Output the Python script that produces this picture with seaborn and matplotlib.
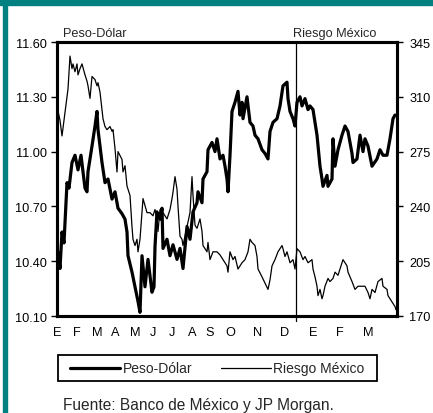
import pandas as pd
import numpy as np
import matplotlib.pyplot as plt
import seaborn as sns

# posicion en el eje de fechas y valores (filas de 10)
peso_dia = [1, 3, 5, 7, 10, 12, 15, 18, 21, 24,
            28, 30, 31, 35, 38, 40, 41, 43, 45, 48,
            51, 55, 58, 61, 65, 68, 70, 71, 75, 78,
            81, 83, 85, 88, 91, 95, 97, 98, 100, 103,
            105, 106, 110, 113, 116, 120, 123, 126, 130, 133,
            136, 140, 141, 145, 146, 150, 151, 155, 158, 160,
            163, 166, 168, 170, 171, 173, 175, 178, 181, 183,
            185, 186, 190, 193, 196, 198, 201, 205, 208, 211,
            213, 216, 220, 223, 226, 230, 231, 233, 236, 238,
            240, 243, 245, 248, 251, 253, 256, 258, 260, 263,
            265, 266, 270, 271, 275, 276, 278, 281, 285, 288,
            291, 295, 296, 300, 303, 306, 308, 311, 315, 320,
            323, 326, 330, 333, 336, 338]
peso_valor = [10.45, 10.36, 10.56, 10.50, 10.83, 10.80, 10.94, 10.98, 10.90, 10.98,
              10.80, 10.78, 10.89, 11.03, 11.14, 11.22, 11.12, 11.03, 10.94, 10.83,
              10.85, 10.74, 10.78, 10.69, 10.66, 10.63, 10.56, 10.43, 10.34, 10.26,
              10.18, 10.12, 10.43, 10.26, 10.41, 10.23, 10.26, 10.48, 10.67, 10.63,
              10.69, 10.47, 10.52, 10.43, 10.49, 10.41, 10.47, 10.36, 10.59, 10.52,
              10.67, 10.72, 10.78, 10.72, 10.85, 10.89, 11.01, 11.05, 11.00, 11.07,
              10.96, 10.98, 10.92, 10.85, 10.78, 10.98, 11.22, 11.27, 11.33, 11.20,
              11.27, 11.18, 11.30, 11.16, 11.14, 11.09, 11.07, 11.01, 10.99, 10.96,
              11.11, 11.16, 11.18, 11.25, 11.36, 11.38, 11.29, 11.22, 11.18, 11.14,
              11.27, 11.30, 11.25, 11.29, 11.23, 11.25, 11.23, 11.16, 11.09, 10.92,
              10.85, 10.81, 10.87, 10.81, 10.85, 11.07, 10.92, 11.01, 11.09, 11.14,
              11.11, 10.99, 10.94, 10.96, 11.09, 11.00, 11.07, 11.03, 10.92, 10.96,
              11.01, 10.98, 10.98, 11.07, 11.18, 11.20]

riesgo_dia = [0, 3, 5, 8, 11, 13, 15, 16, 18, 20,
              21, 23, 25, 28, 30, 31, 33, 35, 38, 40,
              41, 43, 45, 46, 48, 50, 53, 55, 56, 58,
              60, 61, 65, 66, 68, 70, 73, 75, 76, 78,
              80, 81, 83, 85, 86, 90, 93, 96, 98, 100,
              101, 103, 106, 110, 113, 115, 116, 118, 120, 121,
              123, 125, 126, 130, 133, 135, 136, 138, 140, 143,
              145, 146, 150, 151, 153, 156, 160, 163, 166, 170,
              171, 173, 176, 178, 181, 185, 188, 191, 193, 195,
              198, 200, 201, 205, 208, 211, 213, 215, 218, 221,
              225, 226, 228, 230, 233, 236, 238, 240, 243, 246,
              248, 251, 255, 256, 258, 260, 261, 263, 265, 266,
              268, 271, 273, 276, 278, 281, 285, 286, 290, 291,
              295, 298, 301, 305, 308, 311, 313, 315, 318, 321,
              325, 326, 330, 331, 333, 335, 338, 339]
riesgo_valor = [304, 295, 285, 300, 315, 336, 328, 331, 326, 331,
                324, 328, 331, 324, 320, 317, 309, 323, 321, 317,
                319, 313, 302, 296, 291, 289, 291, 288, 289, 277,
                262, 275, 270, 262, 266, 253, 247, 227, 219, 215,
                219, 211, 219, 236, 245, 236, 236, 234, 238, 232,
                224, 238, 236, 232, 238, 245, 249, 259, 251, 240,
                221, 219, 215, 227, 236, 259, 247, 228, 226, 232,
                224, 215, 211, 217, 206, 211, 211, 209, 206, 202,
                198, 211, 206, 208, 200, 204, 206, 211, 219, 217,
                215, 208, 200, 195, 191, 187, 193, 202, 206, 211,
                215, 213, 208, 211, 204, 206, 200, 213, 211, 206,
                208, 204, 206, 200, 195, 189, 183, 187, 181, 183,
                189, 194, 192, 194, 198, 196, 204, 206, 202, 198,
                192, 187, 189, 189, 189, 185, 181, 187, 185, 192,
                194, 189, 187, 183, 181, 179, 176, 174]

meses = ['E', 'F', 'M', 'A', 'M', 'J', 'J', 'A', 'S', 'O', 'N', 'D', 'E', 'F', 'M']
meses_dia = [0, 20, 40, 58, 78, 96, 115, 135, 153, 173, 201, 228, 256, 283, 311]
corte_anio = 239

peso = pd.DataFrame({'dia': peso_dia, 'valor': peso_valor})
riesgo = pd.DataFrame({'dia': riesgo_dia, 'valor': riesgo_valor})

sns.set_style('white')
plt.rcParams['font.family'] = ['Liberation Sans', 'DejaVu Sans']

teal = '#008080'
W, H = 433, 414
fig = plt.figure(figsize=(W / 100, H / 100), dpi=100)
fig.patches.append(plt.Rectangle((0, 1 - 6 / H), 1, 6 / H, transform=fig.transFigure,
                                 color=teal, zorder=0))
fig.patches.append(plt.Rectangle((3.3 / W, 0), 3.4 / W, 1, transform=fig.transFigure,
                                 color=teal, zorder=0))

ax = fig.add_axes([57 / W, 97 / H, 340 / W, 274 / H])
ax2 = ax.twinx()

sns.lineplot(data=peso, x='dia', y='valor', ax=ax, color='black', linewidth=2.3,
             estimator=None, label='Peso-Dólar', legend=False)
sns.lineplot(data=riesgo, x='dia', y='valor', ax=ax2, color='black', linewidth=0.9,
             estimator=None, label='Riesgo México', legend=False)

ax.set_xlim(0, 340)
ax.set_ylim(10.10, 11.60)
ax2.set_ylim(170, 345)
ticks_izq = np.arange(10.10, 11.61, 0.30)
ax.set_yticks(ticks_izq)
ax.set_yticklabels([f'{v:.2f}' for v in ticks_izq])
ax2.set_yticks(range(170, 346, 35))
ax.set_xticks(meses_dia)
ax.set_xticklabels(meses)
ax.set_xlabel('')
ax.set_ylabel('')
ax2.set_ylabel('')

for a in (ax, ax2):
    for s in a.spines.values():
        s.set_linewidth(2.2)
        s.set_color('black')
ax.tick_params(axis='y', which='both', left=True, length=4, width=1, pad=3,
               labelsize=9.2, colors='black')
ax2.tick_params(axis='y', right=True, length=4, width=1, pad=5, labelsize=9.2,
                colors='black')
ax.tick_params(axis='x', length=0, pad=7, labelsize=9.2, colors='black')

ax.axvline(corte_anio, ymin=-0.02, ymax=1, color='black', linewidth=0.9, clip_on=False)

fig.text(63 / W, 1 - 37 / H, 'Peso-Dólar', fontsize=9.2, va='baseline')
fig.text(293 / W, 1 - 37 / H, 'Riesgo México', fontsize=9.2, va='baseline')

# recuadro de la leyenda
fig.patches.append(plt.Rectangle((58 / W, 1 - 382 / H), 319 / W, 26 / H,
                                 transform=fig.transFigure, facecolor='white',
                                 edgecolor='black', linewidth=1.3, zorder=1))
h1, l1 = ax.get_legend_handles_labels()
h2, l2 = ax2.get_legend_handles_labels()
leg = fig.legend(h1 + h2, l1 + l2, loc='center', ncol=2,
                 bbox_to_anchor=(217.5 / W, 1 - 369.5 / H), fontsize=10,
                 frameon=False, handlelength=3.6, handletextpad=0.15,
                 columnspacing=2.1, borderpad=0.3)

fig.text(63 / W, 1 / H, 'Fuente: Banco de México y JP Morgan.', fontsize=11.2,
         va='bottom')

fig.savefig('out.png', dpi=100)
